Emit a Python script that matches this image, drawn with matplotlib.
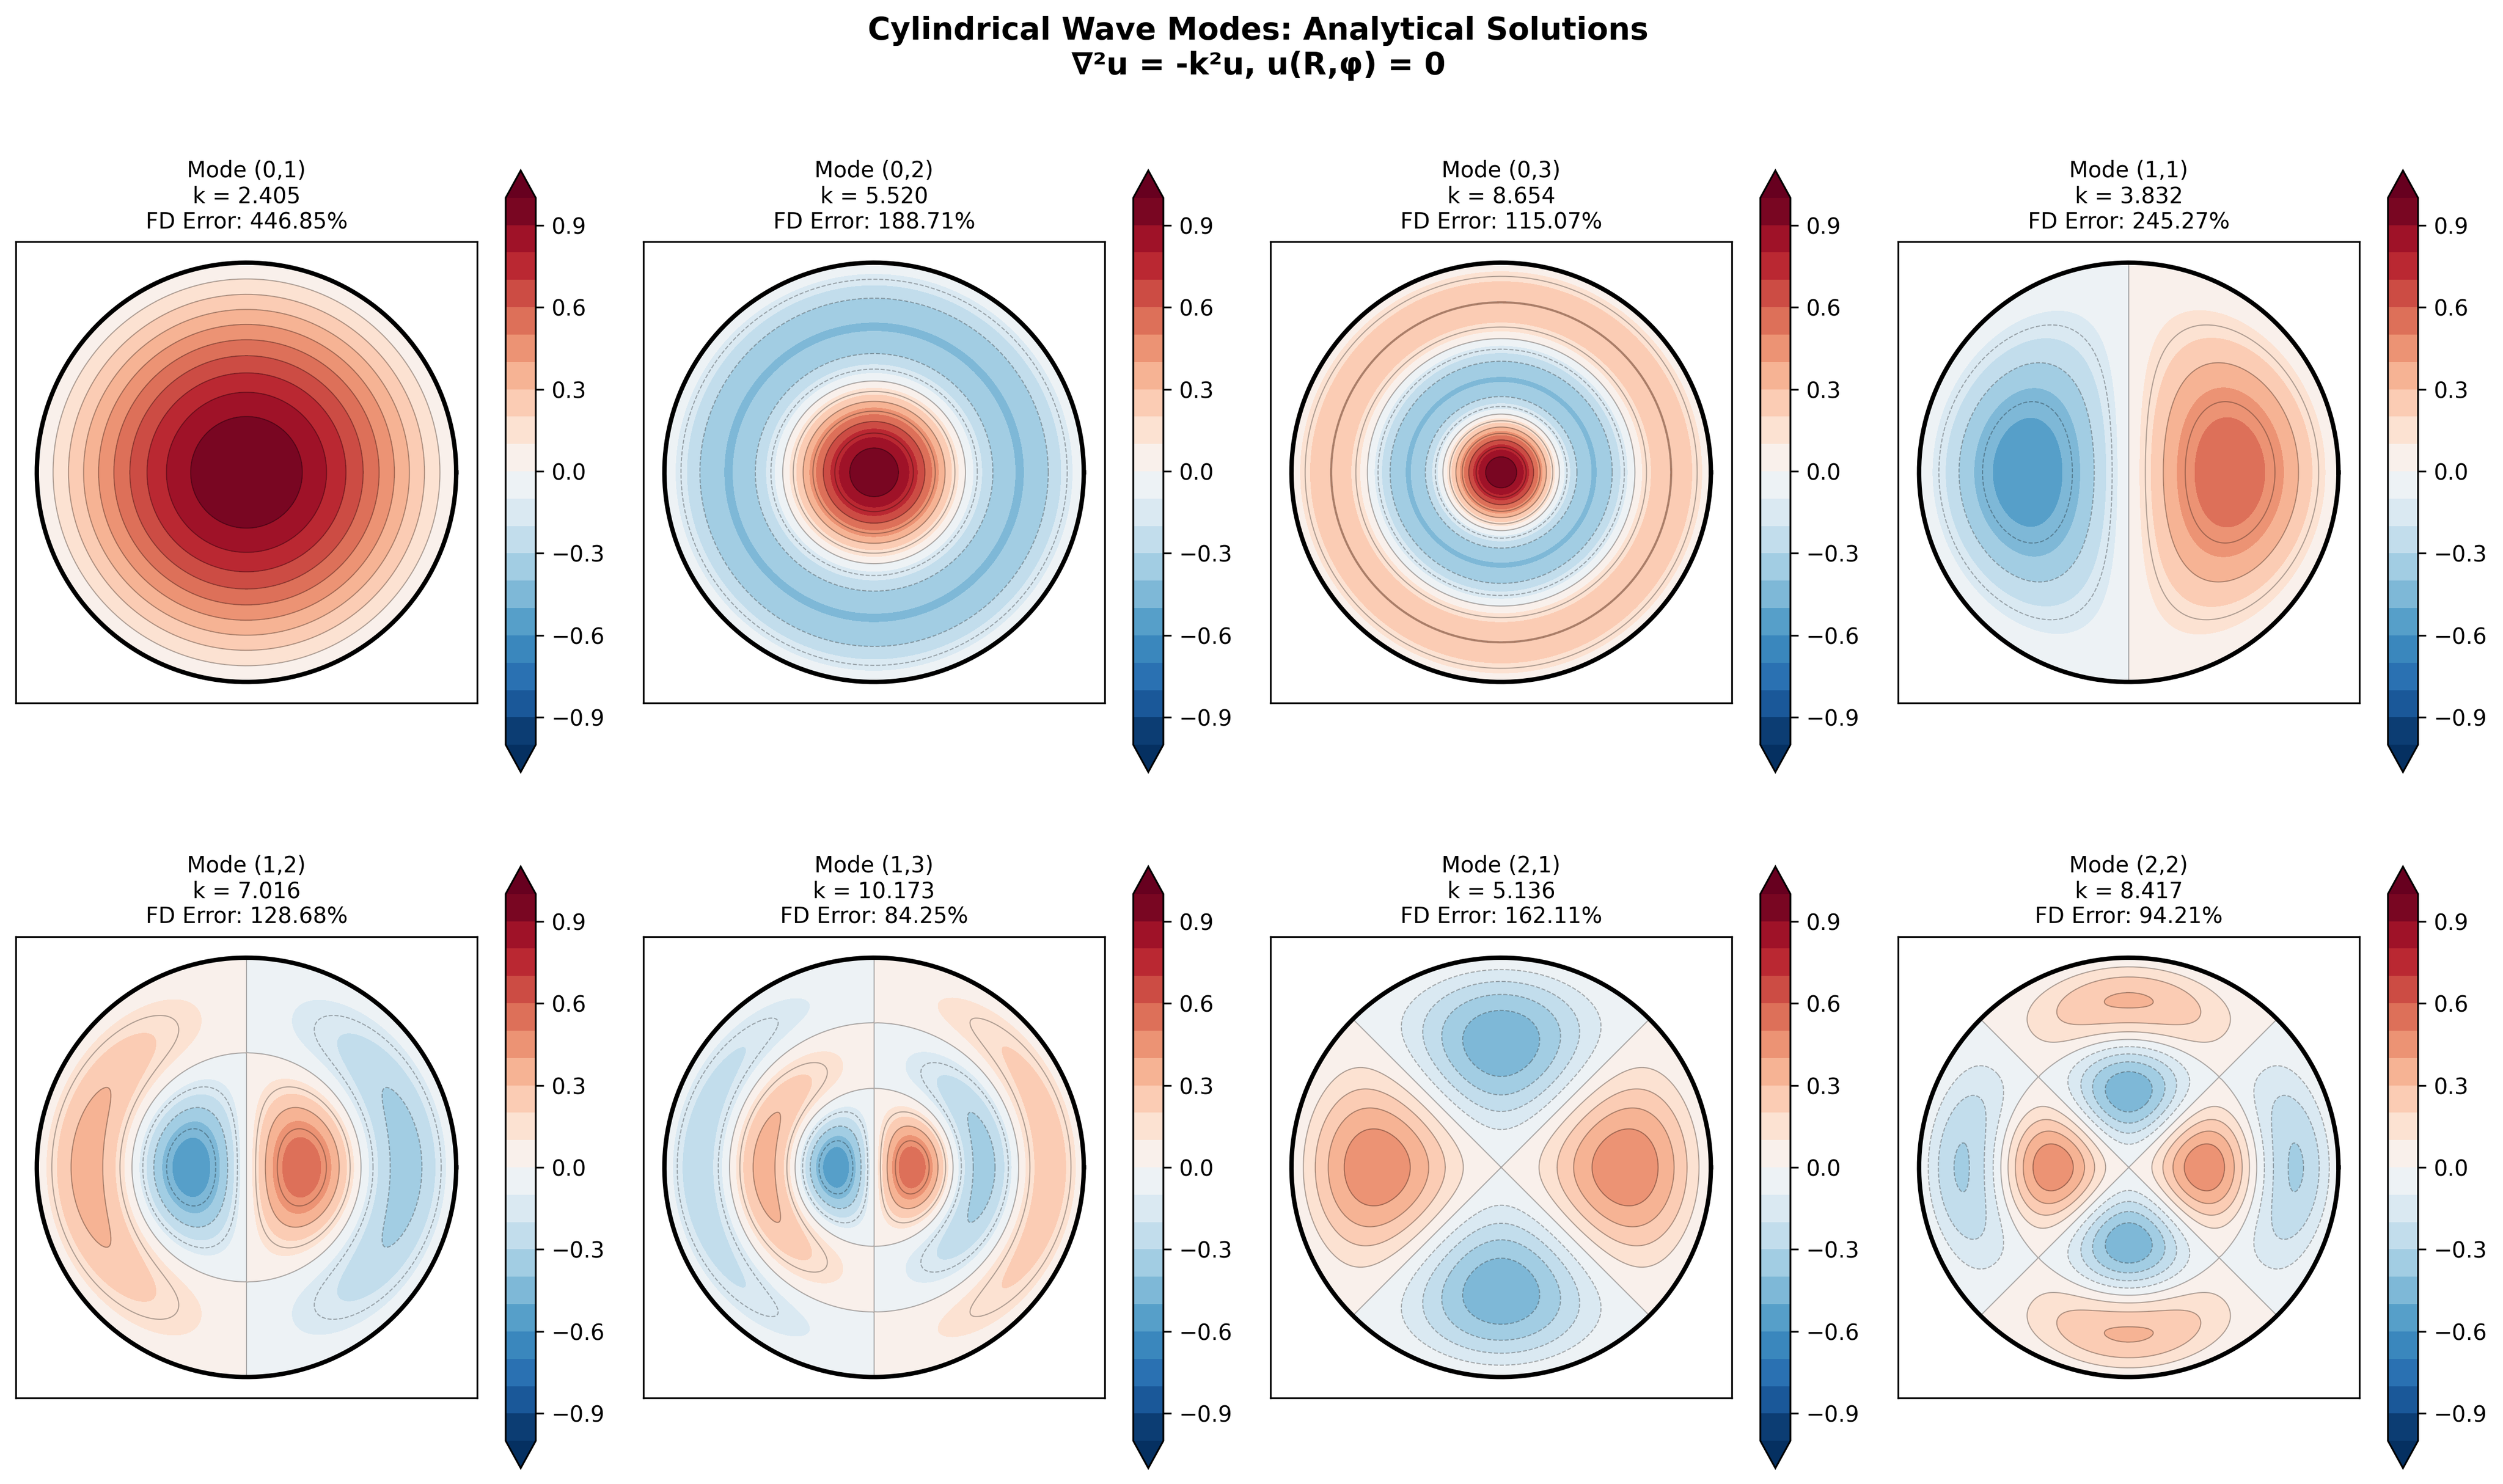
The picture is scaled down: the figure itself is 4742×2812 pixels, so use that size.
import numpy as np
import matplotlib
matplotlib.use('Agg')
import matplotlib.pyplot as plt

# azimuthal / radial mode numbers, eigenvalues and FD errors as printed on the panels
m_values = [0, 0, 0, 1, 1, 1, 2, 2]
n_values = [1, 2, 3, 1, 2, 3, 1, 2]
k_values = [2.405, 5.520, 8.654, 3.832, 7.016, 10.173, 5.136, 8.417]
fd_errors = [446.85, 188.71, 115.07, 245.27, 128.68, 84.25, 162.11, 94.21]
cbar_ticks = [-0.9, -0.6, -0.3, 0.0, 0.3, 0.6, 0.9]

W, H = 4742, 2812
AX_LEFT = [30, 1219, 2407, 3596]
AX_TOP = [458, 1775]
CBAR_TOP = [323, 1642]
AX_SIZE = 874


def bessel_j(m, x):
    # integral form, scipy is not available here
    tau = np.linspace(0, np.pi, 801)
    vals = np.cos(m * tau[None, :] - x.ravel()[:, None] * np.sin(tau))
    return (np.trapezoid(vals, tau, axis=1) / np.pi).reshape(x.shape)


def px_box(left, top, width, height):
    return [left / W, 1 - (top + height) / H, width / W, height / H]


fig = plt.figure(figsize=(W / 300, H / 300), dpi=300)
fig.suptitle('Cylindrical Wave Modes: Analytical Solutions\n∇²u = -k²u, u(R,φ) = 0',
             fontsize=14, fontweight='bold', x=2384 / W, y=1 - 30 / H, va='top')

r = np.linspace(0, 1, 200)
phi = np.linspace(0, 2 * np.pi, 200)
R, PHI = np.meshgrid(r, phi)
X = R * np.cos(PHI)
Y = R * np.sin(PHI)
levels = np.linspace(-1, 1, 21)
theta = np.linspace(0, 2 * np.pi, 400)

for i in range(8):
    row, col = i // 4, i % 4
    left = AX_LEFT[col]
    top = AX_TOP[row]
    ax = fig.add_axes(px_box(left, top, AX_SIZE, AX_SIZE))

    Z = bessel_j(m_values[i], k_values[i] * R) * np.cos(m_values[i] * PHI)
    cs = ax.contourf(X, Y, Z, levels=levels, cmap='RdBu_r', extend='both')
    # contour lines get their own automatic levels per mode
    ax.contour(X, Y, Z, levels=10, colors='k', linewidths=0.5, alpha=0.3)
    ax.plot(np.cos(theta), np.sin(theta), 'k-', linewidth=2)

    ax.set_xlim(-1.1, 1.1)
    ax.set_ylim(-1.1, 1.1)
    ax.set_aspect('equal')
    ax.set_xticks([])
    ax.set_yticks([])
    ax.set_title(f'Mode ({m_values[i]},{n_values[i]})\nk = {k_values[i]:.3f}\nFD Error: {fd_errors[i]:.2f}%',
                 fontsize=10)

    cax = fig.add_axes(px_box(left + 928, CBAR_TOP[row], 57, 1140))
    cb = fig.colorbar(cs, cax=cax)
    cb.set_ticks(cbar_ticks)

fig.savefig('out.png', dpi=300)
